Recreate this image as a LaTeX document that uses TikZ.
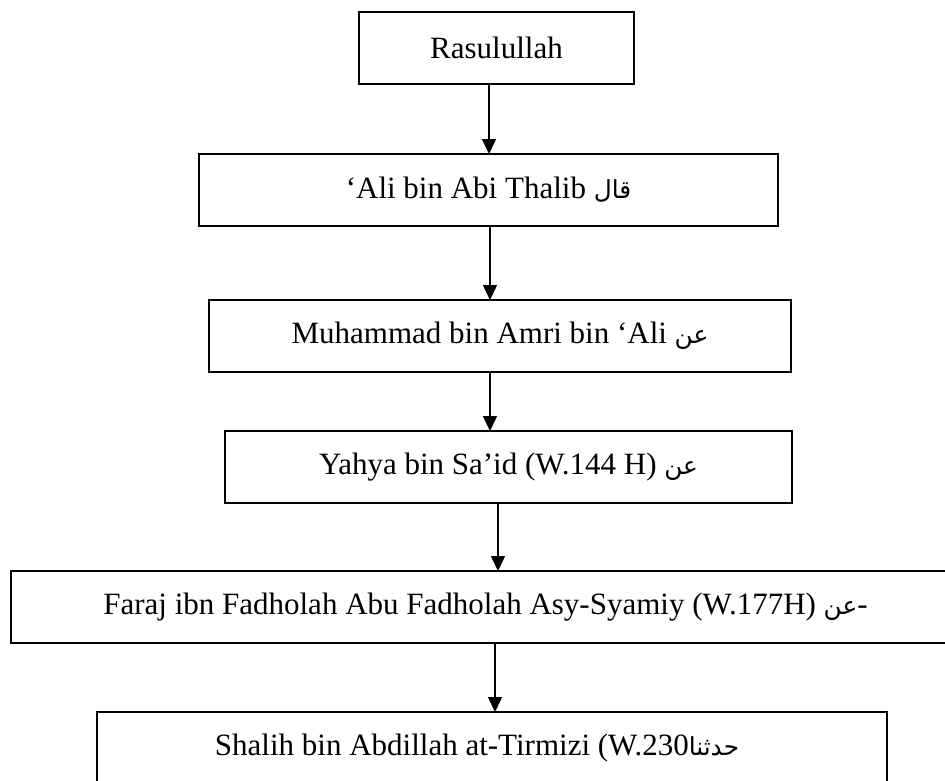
\documentclass[tikz,border=0pt]{standalone}
\usepackage{fontspec}
\setmainfont{Liberation Serif}
\newfontfamily\arabicfont[Script=Arabic,Scale=0.8]{DejaVu Sans}
\TeXXeTstate=1
\usepackage{tikz}
\usetikzlibrary{arrows.meta, positioning}
\tikzset{
    chainbox/.style={rectangle, minimum height=72pt, inner sep=0pt, outer sep=0pt, text centered, draw=black, line width=1.8pt, font=\fontsize{31}{37}\selectfont},
    arrow/.style={line width=1.5pt, -{Triangle[width=14pt,length=15pt]}}
}
\newcommand{\artext}[1]{{\arabicfont\beginR #1\endR}}

\begin{document}
\begin{tikzpicture}[x=1pt, y=-1pt]
    \path[fill=white, use as bounding box] (0,0) rectangle (945,780);

    \node (r0) [chainbox, minimum width=275pt] at (496.5,48) {Rasulullah};
    \node (r1) [chainbox, minimum width=579pt, below=70pt of r0, xshift=-8pt] {‘Ali bin Abi Thalib \artext{قال}};
    \node (r2) [chainbox, minimum width=582pt, below=74pt of r1, xshift=11.5pt] {Muhammad bin Amri bin ‘Ali \artext{عن}};
    \node (r3) [chainbox, minimum width=567pt, below=59pt of r2, xshift=8.5pt] {Yahya bin Sa’id (W.144 H) \artext{عن}};
    \node (r4) [chainbox, minimum width=949pt, below=68pt of r3, xshift=-23pt] {Faraj ibn Fadholah Abu Fadholah Asy-Syamiy (W.177H) \artext{عن}-};
    \node (r5) [chainbox, minimum width=790pt, below=69pt of r4, xshift=6.5pt] {Shalih bin Abdillah at-Tirmizi (W.230\artext{حدثنا}\hspace*{30pt}};

    \draw [arrow] ([xshift=-7.5pt]r0.south) -- ([xshift=-7.5pt]r0.south |- r1.north);
    \draw [arrow] ([xshift=1.5pt]r1.south) -- ([xshift=1.5pt]r1.south |- r2.north);
    \draw [arrow] ([xshift=-10pt]r2.south) -- ([xshift=-10pt]r2.south |- r3.north);
    \draw [arrow] ([xshift=-10.5pt]r3.south) -- ([xshift=-10.5pt]r3.south |- r4.north);
    \draw [arrow] ([xshift=9.5pt]r4.south) -- ([xshift=9.5pt]r4.south |- r5.north);
\end{tikzpicture}
\end{document}
